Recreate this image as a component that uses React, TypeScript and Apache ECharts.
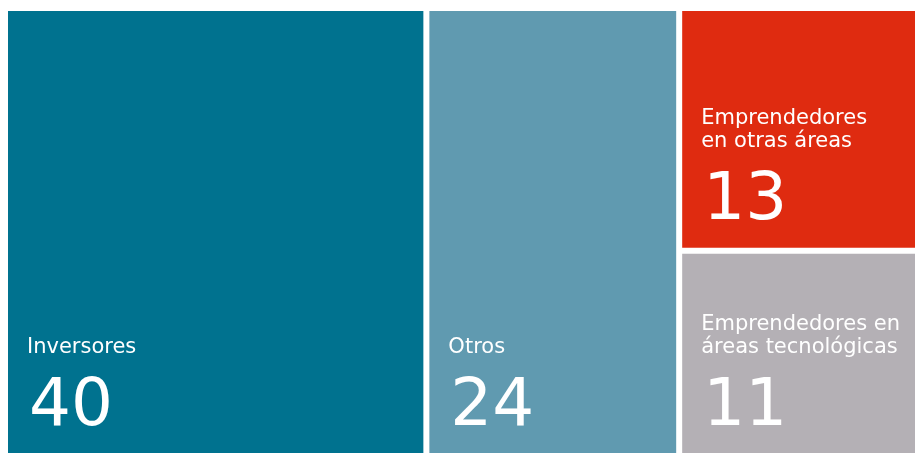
import React, { useEffect, useRef } from "react";
import * as echarts from "echarts";

// Data
const categories = [
  "Inversores",
  "Otros",
  "Emprendedores\nen otras áreas",
  "Emprendedores en\náreas tecnológicas",
];
const values = [40, 24, 13, 11];
const colors = ["#00728f", "#609ab0", "#df2b10", "#b4b0b5"];

const NAME_LH = 23;
const VALUE_LH = 90;
const BOTTOM_GAP = 6;
const FONT = "'DejaVu Sans', sans-serif";

export default function App() {
  const ref = useRef<HTMLDivElement>(null);

  useEffect(() => {
    if (!ref.current) return;
    const chart = echarts.init(ref.current, undefined, { renderer: "svg" });

    const data = categories.map((name, i) => {
      const lines = name.split("\n").length;
      return {
        name,
        value: values[i],
        itemStyle: { color: colors[i] },
        label: { offset: [19, -(lines * NAME_LH + VALUE_LH + BOTTOM_GAP)] },
      };
    });

    chart.setOption({
      animation: false,
      series: [
        {
          type: "treemap",
          left: 8,
          top: 11,
          width: 921,
          height: 442,
          squareRatio: 1,
          roam: false,
          nodeClick: false,
          silent: true,
          breadcrumb: { show: false },
          itemStyle: { gapWidth: 6, borderWidth: 0, borderColor: "#fff" },
          levels: [
            { itemStyle: { gapWidth: 6, borderWidth: 0, borderColor: "#fff" } },
            { itemStyle: { borderWidth: 0 } },
          ],
          upperLabel: { show: false },
          emphasis: { disabled: true },
          label: {
            show: true,
            position: "insideBottomLeft",
            distance: 0,
            padding: 0,
            verticalAlign: "top",
            align: "left",
            overflow: "none",
            color: "#fff",
            fontFamily: FONT,
            formatter: (p: any) => {
              const nameLines = String(p.name)
                .split("\n")
                .map((l: string) => `{name|${l}}`)
                .join("\n");
              return `${nameLines}\n{value|${p.value}}`;
            },
            rich: {
              name: {
                fontSize: 21,
                lineHeight: NAME_LH,
                color: "#fff",
                fontFamily: FONT,
              },
              value: {
                fontSize: 66,
                lineHeight: VALUE_LH,
                padding: [0, 0, 0, 2],
                color: "#fff",
                fontFamily: FONT,
              },
            },
          },
          data,
        },
      ],
    });

    return () => chart.dispose();
  }, []);

  return (
    <div
      ref={ref}
      style={{ position: "fixed", left: 0, top: 0, width: 915, height: 453 }}
    />
  );
}
